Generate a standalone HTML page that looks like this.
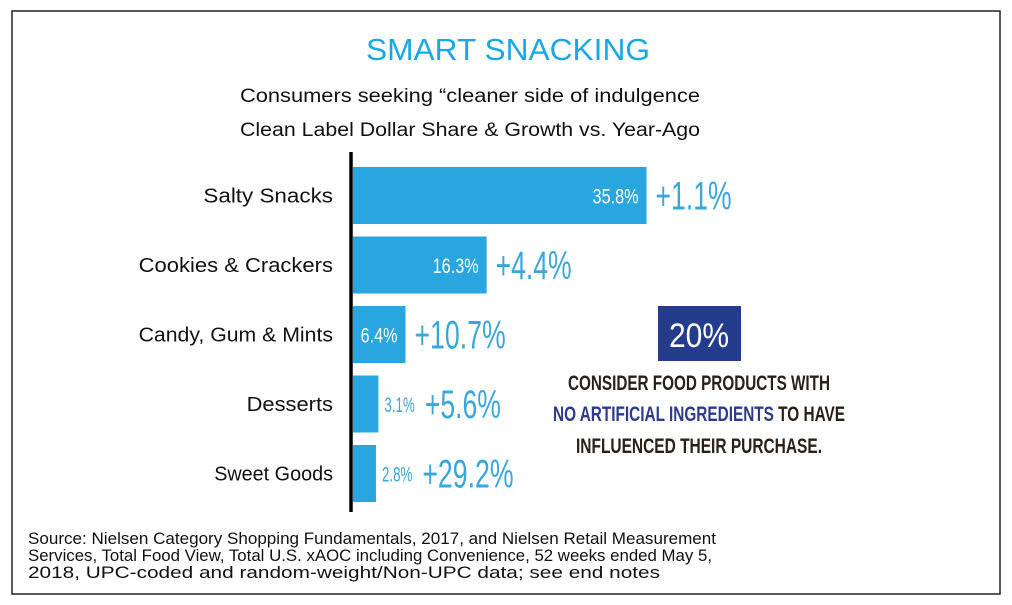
<!DOCTYPE html>
<html><head><meta charset="utf-8"><style>
html,body{margin:0;padding:0;background:#fff;}
svg{display:block;}
</style></head><body>
<svg id="chart" width="1012" height="605" xmlns="http://www.w3.org/2000/svg" font-family="Liberation Sans, sans-serif">
<rect x="12" y="11" width="988" height="583" fill="#fff" stroke="#222" stroke-width="1.5"/>
<text x="508" y="60" text-anchor="middle" font-size="31" fill="#19a8e6" textLength="284" lengthAdjust="spacingAndGlyphs">SMART SNACKING</text>
<text x="470" y="102" text-anchor="middle" font-size="19" fill="#111" textLength="460" lengthAdjust="spacingAndGlyphs">Consumers seeking “cleaner side of indulgence</text>
<text x="470" y="136" text-anchor="middle" font-size="19" fill="#111" textLength="460" lengthAdjust="spacingAndGlyphs">Clean Label Dollar Share &amp; Growth vs. Year-Ago</text>
<g id="bars"></g>
<line x1="351" y1="152" x2="351" y2="512" stroke="#000" stroke-width="3.5"/>
<rect x="658" y="306" width="83" height="55" fill="#233d8c"/>
<text x="699" y="347" text-anchor="middle" font-size="34" fill="#fff" textLength="60" lengthAdjust="spacingAndGlyphs">20%</text>
<text x="699" y="390" text-anchor="middle" font-size="21" font-weight="bold" fill="#2a2018" textLength="262" lengthAdjust="spacingAndGlyphs">CONSIDER FOOD PRODUCTS WITH</text>
<text x="699" y="421" text-anchor="middle" font-size="21" font-weight="bold" textLength="292" lengthAdjust="spacingAndGlyphs"><tspan fill="#2c3b8c">NO ARTIFICIAL INGREDIENTS</tspan><tspan fill="#2a2018"> TO HAVE</tspan></text>
<text x="699" y="453" text-anchor="middle" font-size="21" font-weight="bold" fill="#2a2018" textLength="246" lengthAdjust="spacingAndGlyphs">INFLUENCED THEIR PURCHASE.</text>
<text x="28" y="544" font-size="17" fill="#111" textLength="688" lengthAdjust="spacingAndGlyphs">Source: Nielsen Category Shopping Fundamentals, 2017, and Nielsen Retail Measurement</text>
<text x="28" y="561" font-size="17" fill="#111" textLength="684" lengthAdjust="spacingAndGlyphs">Services, Total Food View, Total U.S. xAOC including Convenience, 52 weeks ended May 5,</text>
<text x="28" y="578" font-size="17" fill="#111" textLength="632" lengthAdjust="spacingAndGlyphs">2018, UPC-coded and random-weight/Non-UPC data; see end notes</text>
</svg>
<script>
const categories = ["Salty Snacks","Cookies & Crackers","Candy, Gum & Mints","Desserts","Sweet Goods"];
const shareValues = [35.8, 16.3, 6.4, 3.1, 2.8];
const growthValues = [1.1, 4.4, 10.7, 5.6, 29.2];
const shareLabels = ["35.8%","16.3%","6.4%","3.1%","2.8%"];
const growthLabels = ["+1.1%","+4.4%","+10.7%","+5.6%","+29.2%"];

const NS = "http://www.w3.org/2000/svg";
const x0 = 353, pxPerUnit = 8.2;
const yTop = 167, step = 69.5, barH = 57;
function xScale(v){ return x0 + v * pxPerUnit; }
function yScale(i){ return yTop + i * step; }
const g = document.getElementById("bars");
function mk(tag, attrs){ const e = document.createElementNS(NS, tag); for (const k in attrs) e.setAttribute(k, attrs[k]); return e; }
function approxLen(s, perChar){ return s.length * perChar; }
categories.forEach((c, i) => {
  const y = yScale(i), xe = xScale(shareValues[i]);
  const r = mk("rect", {x: x0, y: y, width: xe - x0, height: barH, fill: "#29a6df"});
  
  
  g.appendChild(r);
  const lbl = mk("text", {x: 333, y: y + barH/2 + 7, "text-anchor": "end", "font-size": "20", fill: "#111", textLength: approxLen(c, 10.8), lengthAdjust: "spacingAndGlyphs"});
  lbl.textContent = c;
  
  
  g.appendChild(lbl);
  const inside = (xe - x0) > 45;
  const sLen = approxLen(shareLabels[i], inside ? 9.2 : 7.6);
  const sx = inside ? xe - 8 : xe + 6;
  const s = mk("text", {x: sx, y: y + barH/2 + 8, "text-anchor": inside ? "end" : "start", "font-size": "21", fill: inside ? "#fff" : "#3aa7dc", textLength: sLen, lengthAdjust: "spacingAndGlyphs"});
  s.textContent = shareLabels[i];
  
  
  g.appendChild(s);
  const gx = inside ? xe + 9 : xe + 6 + sLen + 10;
  const t = mk("text", {x: gx, y: y + barH/2 + 14, "font-size": "40", fill: "#3aa7dc", textLength: approxLen(growthLabels[i], 15.2), lengthAdjust: "spacingAndGlyphs"});
  t.textContent = growthLabels[i];
  
  
  g.appendChild(t);
});
</script>
</body></html>
